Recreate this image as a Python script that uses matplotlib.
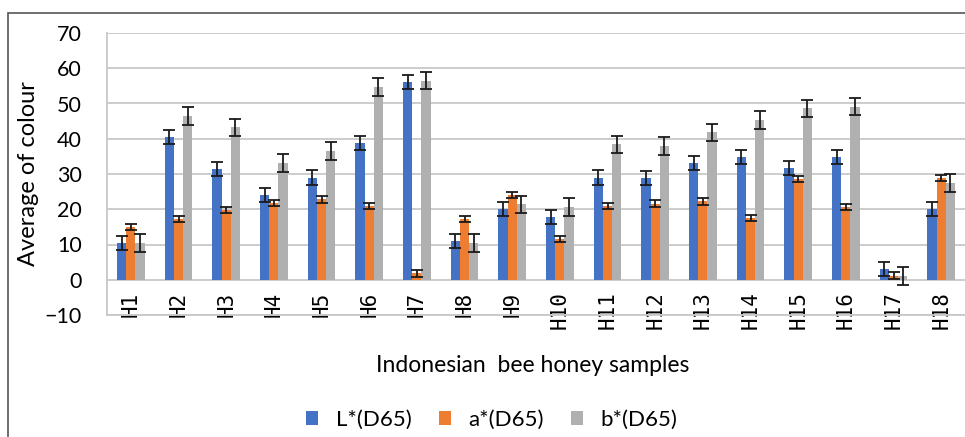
import matplotlib
matplotlib.use("Agg")
import matplotlib.pyplot as plt
from matplotlib.patches import Rectangle
import numpy as np

# honey samples and CIE colour values
samples = ["H1", "H2", "H3", "H4", "H5", "H6", "H7", "H8", "H9",
           "H10", "H11", "H12", "H13", "H14", "H15", "H16", "H17", "H18"]
L_vals = [10.5, 40.4, 31.5, 24.1, 29.0, 38.9, 56.2, 11.1, 20.0,
          17.7, 29.0, 28.9, 33.1, 34.9, 31.7, 34.9, 3.0, 20.0]
a_vals = [15.0, 17.2, 19.8, 21.8, 22.8, 21.0, 1.8, 17.3, 24.0,
          11.6, 20.9, 21.6, 22.2, 17.6, 28.6, 20.7, 1.2, 28.8]
b_vals = [10.4, 46.4, 43.2, 33.2, 36.5, 54.6, 56.5, 10.4, 21.4,
          20.6, 38.4, 37.9, 41.8, 45.3, 48.6, 49.1, 1.1, 27.5]
L_err = [2.0] * 18
a_err = [0.9] * 18
b_err = [2.5] * 18

names = ["L*(D65)", "a*(D65)", "b*(D65)"]
cols = ["#4472C4", "#ED7D31", "#B0B0B0"]

fig = plt.figure(figsize=(9.65, 4.37), dpi=100)
# outer chart border (cropped on right/bottom)
fig.patches.append(Rectangle((8 / 965, -0.05), 1.2, 1 - 13 / 437 + 0.05,
                             transform=fig.transFigure, fill=False,
                             edgecolor="#555555", lw=1.2))

ax = fig.add_axes([107 / 965, 1 - 315 / 437, 1 - 107 / 965, (315 - 33) / 437])

x = np.arange(len(samples))
w = 0.195
for i, (vals, errs) in enumerate(zip([L_vals, a_vals, b_vals], [L_err, a_err, b_err])):
    ax.bar(x + (i - 1) * w, vals, w, color=cols[i], label=names[i], zorder=3,
           yerr=errs, error_kw=dict(ecolor="#1a1a1a", elinewidth=1.3, capsize=4, capthick=1.3, zorder=4))

ax.set_ylim(-10, 70)
ax.set_xlim(-0.5, len(samples) - 0.5)
ax.set_yticks(range(-10, 80, 10))
ax.yaxis.grid(True, color="#c8c8c8", lw=1.3, zorder=0)
ax.set_axisbelow(True)
for s in ["top", "right"]:
    ax.spines[s].set_visible(False)
ax.spines["left"].set_color("#c8c8c8")
ax.spines["bottom"].set_color("#c8c8c8")
ax.spines["left"].set_linewidth(1.3)
ax.spines["bottom"].set_linewidth(1.3)
ax.tick_params(length=0)
ax.tick_params(axis="y", labelsize=15.5, pad=18)
for t in ax.get_yticklabels():
    t.set_family("Lato")
ax.set_xticks(x)
ax.set_xticklabels(samples, rotation=90, family="DejaVu Sans Mono", fontsize=15)
ax.tick_params(axis="x", pad=-17)

ax.set_ylabel("Average of colour", fontsize=17, family="Lato")
ax.yaxis.set_label_coords(-0.079, 0.5)
fig.text(533 / 965, 1 - 366 / 437, "Indonesian  bee honey samples", ha="center", va="center",
         fontsize=16.5, family="Lato")

fig.legend(loc="center", bbox_to_anchor=(492 / 965, 1 - 420 / 437), ncol=3, frameon=False,
           prop={"family": "Lato", "size": 16}, handlelength=0.55, handleheight=0.6,
           columnspacing=1.2, handletextpad=0.8)

fig.savefig("out.png", dpi=100)
